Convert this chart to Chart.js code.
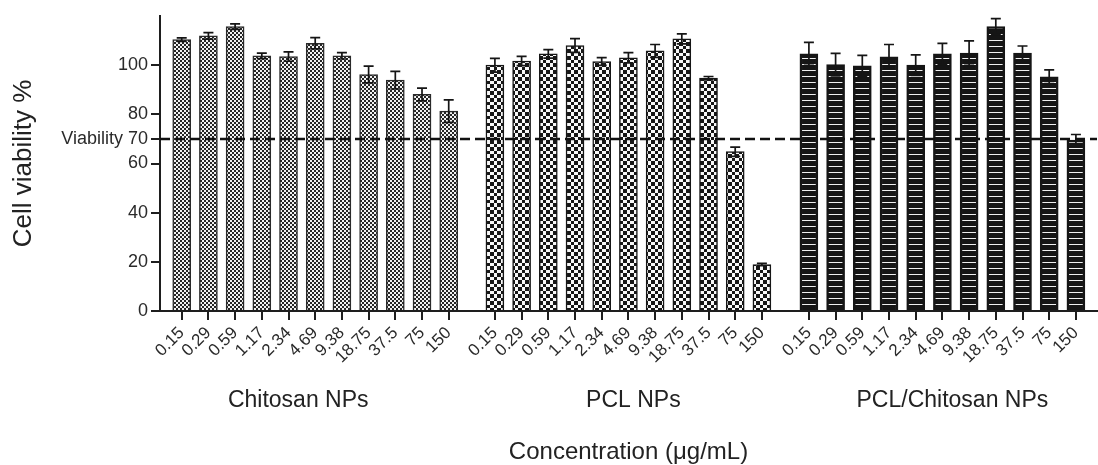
<!DOCTYPE html>
<html>
<head>
<meta charset="utf-8">
<script src="https://cdn.jsdelivr.net/npm/chart.js@4.4.1/dist/chart.umd.min.js"></script>
<style>
  html, body { margin: 0; padding: 0; background: #fff; }
</style>
</head>
<body>
<canvas id="graphCanvasViability" width="1098" height="465"></canvas>
<script>
// concentrations tested (ug/mL), same for each formulation
var concentrations = ['0.15', '0.29', '0.59', '1.17', '2.34', '4.69', '9.38', '18.75', '37.5', '75', '150'];
var groupNames = ['Chitosan NPs', 'PCL NPs', 'PCL/Chitosan NPs'];

// mean cell viability (%) and standard deviation
var chitosanMeans = [110.4, 111.9, 115.7, 103.8, 103.5, 108.9, 103.8, 96.2, 93.9, 88.1, 81.3];
var chitosanSD    = [0.7, 1.3, 1.1, 1.1, 1.9, 2.3, 1.3, 3.4, 3.6, 2.6, 4.6];
var pclMeans      = [100.0, 101.7, 104.6, 108.0, 101.5, 103.0, 105.8, 110.7, 94.7, 64.8, 18.9];
var pclSD         = [2.8, 1.9, 1.7, 2.8, 1.6, 2.1, 2.6, 2.0, 0.7, 1.9, 0.5];
var blendMeans    = [104.6, 100.2, 99.7, 103.4, 100.0, 104.6, 104.9, 115.7, 104.9, 95.3, 69.5];
var blendSD       = [4.7, 4.6, 4.3, 5.0, 4.2, 4.3, 5.0, 3.2, 2.9, 2.8, 2.3];

var yTicks = [0, 20, 40, 60, 70, 80, 100];
var viabilityLimit = 70;

// layout of the x axis (in bar slots)
var groupStart = [0, 11.73, 23.49];
var xMin = -0.813, xMax = 34.28;
var labelShift = [-17, 5, 10];

Chart.defaults.font.family = '"Liberation Sans", Arial, sans-serif';
Chart.defaults.color = '#222';

var canvas = document.getElementById('graphCanvasViability');
var ctx = canvas.getContext('2d');

function makePattern(w, h, draw) {
    var c = document.createElement('canvas');
    c.width = w;
    c.height = h;
    draw(c.getContext('2d'));
    return ctx.createPattern(c, 'repeat');
}

var fineChecker = makePattern(4, 4, function(g) {
    g.fillStyle = '#f2f2f2';
    g.fillRect(0, 0, 4, 4);
    g.fillStyle = '#262626';
    g.fillRect(0, 0, 2, 2);
    g.fillRect(2, 2, 2, 2);
});

var coarseChecker = makePattern(7, 7, function(g) {
    g.fillStyle = '#f8f8f8';
    g.fillRect(0, 0, 7, 7);
    g.fillStyle = '#161616';
    g.fillRect(0, 0, 4, 4);
    g.fillRect(4, 4, 3, 3);
});

var stripes = makePattern(2, 6, function(g) {
    g.fillStyle = '#151515';
    g.fillRect(0, 0, 2, 6);
    g.fillStyle = '#efefef';
    g.fillRect(0, 4, 2, 1);
});

function toPoints(means, g) {
    return means.map(function(v, i) {
        return { x: groupStart[g] + i, y: v };
    });
}

var tickPositions = [];
groupStart.forEach(function(s) {
    concentrations.forEach(function(c, i) { tickPositions.push(s + i); });
});

var errors = [chitosanSD, pclSD, blendSD];

// error bars (mean +/- SD) on top of each bar
var errorBarPlugin = {
    id: 'errorBars',
    afterDatasetsDraw: function(chart) {
        var c = chart.ctx;
        var yScale = chart.scales.y;
        c.save();
        c.strokeStyle = '#151515';
        c.lineWidth = 1.7;
        chart.data.datasets.forEach(function(ds, d) {
            var meta = chart.getDatasetMeta(d);
            meta.data.forEach(function(bar, i) {
                var m = ds.data[i].y;
                var sd = errors[d][i];
                var top = yScale.getPixelForValue(m + sd);
                var bot = yScale.getPixelForValue(m - sd);
                c.beginPath();
                c.moveTo(bar.x, top);
                c.lineTo(bar.x, bot);
                c.moveTo(bar.x - 5, top);
                c.lineTo(bar.x + 5, top);
                c.moveTo(bar.x - 5, bot);
                c.lineTo(bar.x + 5, bot);
                c.stroke();
            });
        });
        c.restore();
    }
};

// dashed 70 % viability line and group names under the ticks
var extrasPlugin = {
    id: 'extras',
    afterDatasetsDraw: function(chart) {
        var c = chart.ctx;
        var area = chart.chartArea;
        var y = chart.scales.y.getPixelForValue(viabilityLimit);
        c.save();
        c.strokeStyle = '#111';
        c.lineWidth = 2.5;
        c.setLineDash([10, 5]);
        c.beginPath();
        c.moveTo(area.left, y);
        c.lineTo(area.right, y);
        c.stroke();
        c.restore();
    },
    afterDraw: function(chart) {
        var c = chart.ctx;
        var xScale = chart.scales.x;
        c.save();
        c.fillStyle = '#222';
        c.font = '23px "Liberation Sans", Arial, sans-serif';
        c.textAlign = 'center';
        c.textBaseline = 'alphabetic';
        groupNames.forEach(function(name, g) {
            var cx = xScale.getPixelForValue(groupStart[g] + (concentrations.length - 1) / 2) + labelShift[g];
            c.fillText(name, cx, 407);
        });
        c.restore();
    }
};

var chartdata = {
    datasets: [{
        label: groupNames[0],
        data: toPoints(chitosanMeans, 0),
        backgroundColor: fineChecker,
        borderColor: '#2a2a2a',
        borderWidth: 1.5
    }, {
        label: groupNames[1],
        data: toPoints(pclMeans, 1),
        backgroundColor: coarseChecker,
        borderColor: '#161616',
        borderWidth: 1.5
    }, {
        label: groupNames[2],
        data: toPoints(blendMeans, 2),
        backgroundColor: stripes,
        borderColor: '#151515',
        borderWidth: 2.5
    }]
};

var barGraph = new Chart(canvas, {
    type: 'bar',
    data: chartdata,
    plugins: [errorBarPlugin, extrasPlugin],
    options: {
        responsive: false,
        animation: false,
        devicePixelRatio: 1,
        layout: { padding: { top: 16, right: 1, left: 0, bottom: 0 } },
        datasets: {
            bar: { barThickness: 18, grouped: false, borderSkipped: 'start' }
        },
        plugins: {
            legend: { display: false },
            tooltip: { enabled: false }
        },
        scales: {
            x: {
                type: 'linear',
                min: xMin,
                max: xMax,
                offset: false,
                afterBuildTicks: function(scale) {
                    scale.ticks = tickPositions.map(function(v) { return { value: v }; });
                },
                afterFit: function(scale) { scale.height = 154; },
                grid: {
                    display: true,
                    offset: false,
                    drawOnChartArea: false,
                    drawTicks: true,
                    tickLength: 9,
                    color: '#1e1e1e',
                    lineWidth: 2
                },
                border: { display: true, color: '#1e1e1e', width: 2 },
                ticks: {
                    autoSkip: false,
                    maxRotation: 45,
                    minRotation: 45,
                    padding: 3,
                    color: '#2a2a2a',
                    font: { size: 17 },
                    callback: function(v, i) { return concentrations[i % concentrations.length]; }
                },
                title: {
                    display: true,
                    text: 'Concentration (μg/mL)',
                    color: '#222',
                    font: { size: 24 },
                    padding: { top: 0, bottom: -2 }
                }
            },
            y: {
                min: 0,
                max: 120,
                afterBuildTicks: function(scale) {
                    scale.ticks = yTicks.map(function(v) { return { value: v }; });
                },
                afterFit: function(scale) { scale.width = 160; },
                grid: {
                    display: true,
                    drawOnChartArea: false,
                    drawTicks: true,
                    tickLength: 9,
                    color: '#1e1e1e',
                    lineWidth: 2
                },
                border: { display: true, color: '#1e1e1e', width: 2 },
                ticks: {
                    padding: 3,
                    color: '#2a2a2a',
                    font: { size: 18 },
                    callback: function(v) { return v === viabilityLimit ? 'Viability ' + v : v; }
                },
                title: {
                    display: true,
                    text: 'Cell viability %',
                    color: '#222',
                    font: { size: 26 },
                    padding: { top: 8, bottom: 0 }
                }
            }
        }
    }
});
</script>
</body>
</html>
